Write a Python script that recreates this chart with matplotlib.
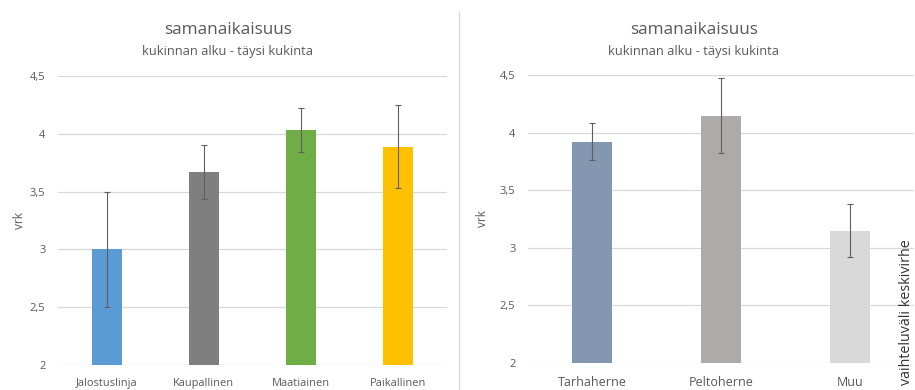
import matplotlib
matplotlib.use("Agg")
import matplotlib.pyplot as plt
from matplotlib.lines import Line2D

plt.rcParams["font.family"] = ["Open Sans", "DejaVu Sans"]

# Lajiketyypit
left_categories = ["Jalostuslinja", "Kaupallinen", "Maatiainen", "Paikallinen"]
left_values = [3.00, 3.67, 4.03, 3.89]
left_errors = [0.50, 0.23, 0.19, 0.36]
left_colors = ["#5B9BD5", "#7F7F7F", "#70AD47", "#FFC000"]

# Hernetyypit
right_categories = ["Tarhaherne", "Peltoherne", "Muu"]
right_values = [3.92, 4.145, 3.145]
right_errors = [0.16, 0.325, 0.23]
right_colors = ["#8497B0", "#AEAAAA", "#D9D9D9"]

y_ticks = [2, 2.5, 3, 3.5, 4, 4.5]
y_tick_labels = ["2", "2,5", "3", "3,5", "4", "4,5"]

title = "samanaikaisuus"
subtitle = "kukinnan alku - täysi kukinta"
y_label = "vrk"
side_note = "vaihteluväli keskivirhe"

TEXT = "#595959"
GRID = "#D9D9D9"

fig = plt.figure(figsize=(9.15, 3.9), dpi=100)
W, H = 915, 390


def panel(rect_px, cats, vals, errs, cols, xlabel_size, xlabel_pad,
          title_cx, ylabel_pad):
    x0, x1, ytop, ybot = rect_px
    ax = fig.add_axes([x0 / W, (H - ybot) / H, (x1 - x0) / W, (ybot - ytop) / H])
    pos = list(range(len(cats)))
    ax.bar(pos, vals, width=0.31, color=cols, zorder=2)
    ax.errorbar(pos, vals, yerr=errs, fmt="none", ecolor="#5F5F5F",
                elinewidth=0.8, capsize=2.5, capthick=0.8, zorder=3)
    ax.set_xlim(-0.5, len(cats) - 0.5)
    ax.set_ylim(2, 4.5)
    ax.set_yticks(y_ticks)
    ax.set_yticklabels(y_tick_labels)
    ax.set_xticks(pos)
    ax.set_xticklabels(cats)
    for lbl in ax.get_xticklabels():
        lbl.set_verticalalignment("baseline")
    for s in ax.spines.values():
        s.set_visible(False)
    ax.yaxis.grid(True, color=GRID, linewidth=0.9, zorder=0)
    ax.set_axisbelow(True)
    ax.tick_params(axis="y", length=0, pad=9, labelsize=8, labelcolor=TEXT)
    ax.tick_params(axis="x", length=0, pad=xlabel_pad, labelsize=xlabel_size,
                   labelcolor=TEXT)
    ax.set_ylabel(y_label, color=TEXT, fontsize=8.5, labelpad=ylabel_pad)
    fig.text(title_cx / W, 1 - 30 / H, title, ha="center", va="center",
             fontsize=12.3, color=TEXT)
    fig.text(title_cx / W, 1 - 51 / H, subtitle, ha="center", va="center",
             fontsize=9.3, color=TEXT)
    return ax


panel((58, 447, 76, 365), left_categories, left_values, left_errors,
      left_colors, 7.9, 15, 228, 3)
panel((528, 914, 75, 362.7), right_categories, right_values, right_errors,
      right_colors, 9, 16.5, 694, 8)

# Pystyviiva kaavioiden välissä
fig.add_artist(Line2D([459 / W, 459 / W], [0, 1 - 12 / H],
                      transform=fig.transFigure, color=GRID, linewidth=1))

fig.text(906 / W, 5 / H, side_note, rotation=90, ha="center", va="bottom",
         fontsize=10.3, color="#333333")

fig.savefig("out.png", dpi=100, facecolor="white")
